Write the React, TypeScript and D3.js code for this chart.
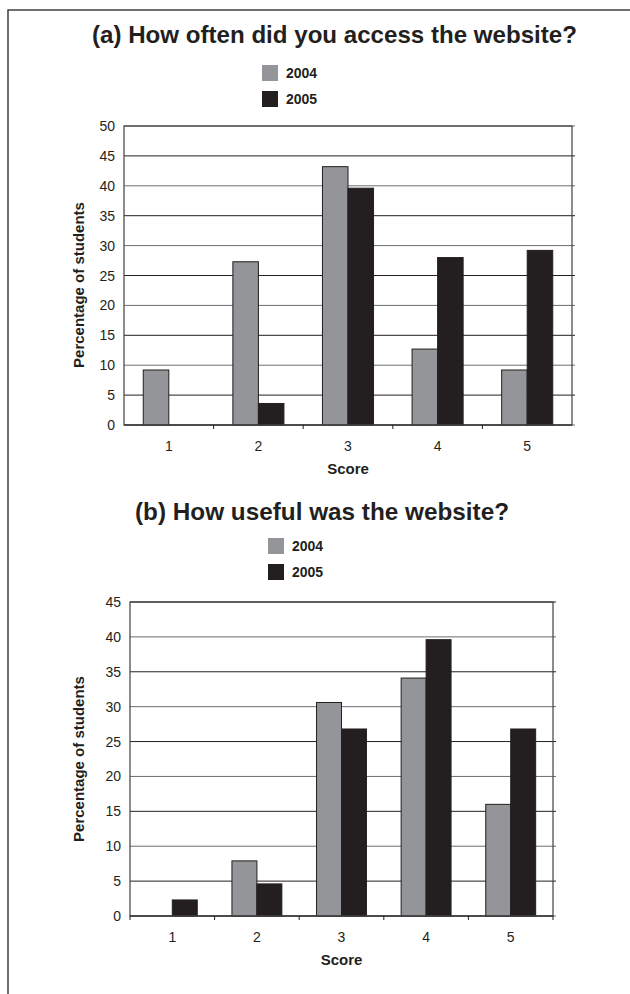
import React from "react";
import * as d3 from "d3";

const categories = ["1", "2", "3", "4", "5"];
const seriesNames = ["2004", "2005"];
const accessValues2004 = [9.2, 27.3, 43.2, 12.7, 9.2];
const accessValues2005 = [0, 3.6, 39.6, 28.0, 29.2];
const usefulValues2004 = [0, 7.9, 30.6, 34.1, 16.0];
const usefulValues2005 = [2.3, 4.6, 26.8, 39.6, 26.8];
const accessTicks = [0, 5, 10, 15, 20, 25, 30, 35, 40, 45, 50];
const usefulTicks = [0, 5, 10, 15, 20, 25, 30, 35, 40, 45];

const FONT = "'Liberation Sans', Arial, Helvetica, sans-serif";
const COLORS = ["#939598", "#231f20"];

type ChartProps = {
  title: string;
  titleX: number;
  titleY: number;
  titleW: number;
  legendX: number;
  legendY: number;
  left: number;
  right: number;
  top: number;
  bottom: number;
  yMax: number;
  ticks: number[];
  s2004: number[];
  s2005: number[];
  ylabelY: number;
  edgeTicks: boolean;
  pad: number;
};

function Chart(p: ChartProps) {
  const x = d3
    .scaleBand<string>()
    .domain(categories)
    .range([p.left, p.right])
    .paddingInner(p.pad)
    .paddingOuter(p.pad / 2);
  const xs = d3.scaleBand<string>().domain(seriesNames).range([0, x.bandwidth()]);
  const y = d3.scaleLinear().domain([0, p.yMax]).range([p.bottom, p.top]);
  const step = x.step();
  const series = [p.s2004, p.s2005];
  const boundaries = d3.range(categories.length + 1).map((i) => p.left + i * step);
  const tickBounds = p.edgeTicks ? boundaries : boundaries.slice(1, -1);

  return (
    <g>
      <text
        x={p.titleX}
        y={p.titleY}
        fontFamily={FONT}
        fontWeight="bold"
        fontSize={24}
        fill="#231f20"
        textAnchor="middle"
        textLength={p.titleW}
        lengthAdjust="spacingAndGlyphs"
      >
        {p.title}
      </text>
      {seriesNames.map((s, i) => (
        <g key={s}>
          <rect x={p.legendX} y={p.legendY + i * 26} width={16} height={16} fill={COLORS[i]} />
          <text
            x={p.legendX + 24}
            y={p.legendY + i * 26 + 13}
            fontFamily={FONT}
            fontWeight="bold"
            fontSize={14}
            fill="#231f20"
          >
            {s}
          </text>
        </g>
      ))}
      {/* gridlines */}
      {p.ticks.map((t) => (
        <line
          key={"g" + t}
          x1={p.left}
          x2={p.right + 3}
          y1={y(t)}
          y2={y(t)}
          stroke={t % 10 === 0 ? "#6d6e71" : "#231f20"}
          strokeWidth={1}
        />
      ))}
      {/* plot border */}
      <rect
        x={p.left}
        y={p.top}
        width={p.right - p.left}
        height={p.bottom - p.top}
        fill="none"
        stroke="#414042"
        strokeWidth={1.2}
      />
      {/* y tick labels */}
      {p.ticks.map((t) => (
        <text
          key={"yl" + t}
          x={p.left - 9}
          y={y(t) + 5}
          fontFamily={FONT}
          fontSize={14}
          fill="#231f20"
          textAnchor="end"
        >
          {t}
        </text>
      ))}
      {/* bars */}
      {categories.map((c, ci) =>
        seriesNames.map((s, si) => {
          const v = series[si][ci];
          if (v <= 0) return null;
          return (
            <rect
              key={c + s}
              x={(x(c) as number) + (xs(s) as number)}
              y={y(v)}
              width={xs.bandwidth()}
              height={y(0) - y(v)}
              fill={COLORS[si]}
              stroke="#231f20"
              strokeWidth={1}
            />
          );
        })
      )}
      {/* x axis */}
      <line x1={p.left} x2={p.right} y1={p.bottom} y2={p.bottom} stroke="#414042" strokeWidth={1.5} />
      {tickBounds.map((bx, i) => (
        <line key={"t" + i} x1={bx} x2={bx} y1={p.bottom} y2={p.bottom + 4} stroke="#231f20" strokeWidth={1} />
      ))}
      {categories.map((c) => (
        <text
          key={"xl" + c}
          x={(x(c) as number) + x.bandwidth() / 2}
          y={p.bottom + 26}
          fontFamily={FONT}
          fontSize={14}
          fill="#231f20"
          textAnchor="middle"
        >
          {c}
        </text>
      ))}
      <text
        x={(p.left + p.right) / 2}
        y={p.bottom + 49}
        fontFamily={FONT}
        fontWeight="bold"
        fontSize={15}
        fill="#231f20"
        textAnchor="middle"
      >
        Score
      </text>
      <text
        transform={`translate(84,${p.ylabelY}) rotate(-90)`}
        fontFamily={FONT}
        fontWeight="bold"
        fontSize={15}
        fill="#231f20"
        textAnchor="middle"
      >
        Percentage of students
      </text>
    </g>
  );
}

export default function App() {
  return (
    <svg
      width={630}
      height={994}
      style={{ position: "absolute", left: 0, top: 0, background: "#fff" }}
    >
      <rect x={0} y={0} width={630} height={994} fill="#fff" />
      <rect x={8} y={10} width={700} height={1100} fill="none" stroke="#414042" strokeWidth={1.5} />
      <Chart
        title="(a) How often did you access the website?"
        titleX={334.5}
        titleY={43}
        titleW={485}
        legendX={262}
        legendY={65}
        left={124}
        right={572}
        top={126}
        bottom={425}
        yMax={50}
        ticks={accessTicks}
        s2004={accessValues2004}
        s2005={accessValues2005}
        ylabelY={285}
        edgeTicks={false}
        pad={0.43}
      />
      <Chart
        title="(b) How useful was the website?"
        titleX={322}
        titleY={520}
        titleW={374}
        legendX={268}
        legendY={538}
        left={130}
        right={553}
        top={602}
        bottom={916}
        yMax={45}
        ticks={usefulTicks}
        s2004={usefulValues2004}
        s2005={usefulValues2005}
        ylabelY={759}
        edgeTicks={true}
        pad={0.41}
      />
    </svg>
  );
}
